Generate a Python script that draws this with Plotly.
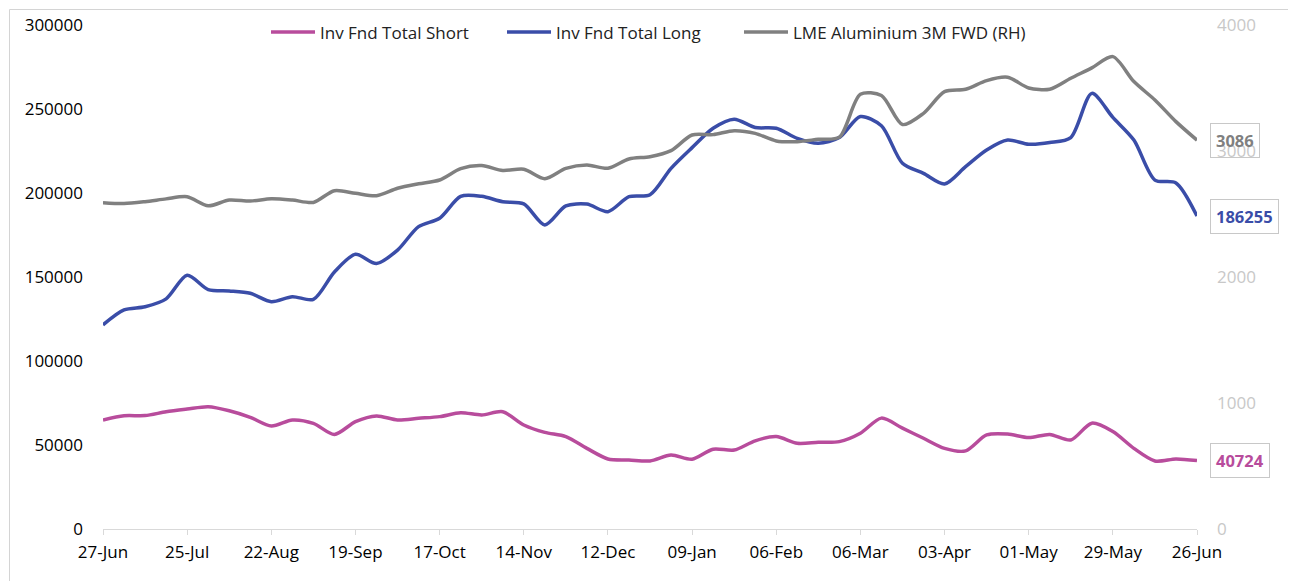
import plotly.graph_objects as go

tick_labels = ["27-Jun", "25-Jul", "22-Aug", "19-Sep", "17-Oct", "14-Nov", "12-Dec",
               "09-Jan", "06-Feb", "06-Mar", "03-Apr", "01-May", "29-May", "26-Jun"]

weeks = list(range(53))

inv_fnd_short = [64900, 67400, 67500, 69800, 71400, 72800, 70400, 66500, 61300, 64900,
                 62900, 56300, 63900, 67300, 64900, 65900, 66900, 69200, 67900, 69800,
                 61900, 57500, 55000, 48000, 41700, 41100, 40500, 44000, 41500, 47500,
                 47000, 52500, 55000, 51000, 51600, 52000, 57000, 66000, 60000, 54000,
                 48000, 46500, 56000, 56500, 54400, 56300, 53000, 63000, 58000, 48000,
                 40500, 41700, 40724]

inv_fnd_long = [121500, 130400, 132300, 137000, 151000, 142500, 141700, 140300, 135300, 138300,
                136700, 153000, 163500, 158000, 166000, 180000, 185000, 198000, 198000, 194800,
                193500, 181000, 192300, 193400, 188900, 197800, 199000, 214700, 227000, 238500,
                243900, 239000, 238500, 232500, 229600, 233000, 245500, 240000, 217700, 211700,
                205400, 215700, 225600, 231500, 229000, 230000, 233000, 259300, 245000, 231500,
                207700, 206000, 186255]

lme_alu_3m = [2590, 2583, 2598, 2620, 2637, 2565, 2611, 2603, 2621, 2611,
              2592, 2685, 2664, 2645, 2704, 2740, 2770, 2860, 2884, 2845,
              2855, 2780, 2862, 2889, 2863, 2937, 2955, 3003, 3127, 3130,
              3161, 3140, 3080, 3074, 3093, 3110, 3450, 3440, 3210, 3299,
              3471, 3490, 3559, 3585, 3500, 3490, 3577, 3660, 3749, 3551,
              3405, 3233, 3086]

C_SHORT = "#B84C9C"
C_LONG = "#3A4DA8"
C_LME = "#808080"
FONT = "Open Sans"

fig = go.Figure()
fig.add_trace(go.Scatter(x=weeks, y=inv_fnd_short, name="Inv Fnd Total Short", mode="lines",
                         legend="legend",
                         line=dict(color=C_SHORT, width=3.5, shape="spline", smoothing=0.8)))
fig.add_trace(go.Scatter(x=weeks, y=inv_fnd_long, name="Inv Fnd Total Long", mode="lines",
                         legend="legend2",
                         line=dict(color=C_LONG, width=3.5, shape="spline", smoothing=0.8)))
fig.add_trace(go.Scatter(x=weeks, y=lme_alu_3m, name="LME Aluminium 3M FWD (RH)", mode="lines",
                         yaxis="y2", legend="legend3",
                         line=dict(color=C_LME, width=3.5, shape="spline", smoothing=0.8)))

# end-of-series data labels
last = len(weeks) - 1
for val, color, yref in [(lme_alu_3m[last], C_LME, "y2"),
                         (inv_fnd_long[last], C_LONG, "y"),
                         (inv_fnd_short[last], C_SHORT, "y")]:
    fig.add_annotation(x=weeks[last], y=val, xref="x", yref=yref, text=f"<b>{val}</b>",
                       showarrow=False, xanchor="left", yanchor="middle", xshift=13,
                       font=dict(family=FONT, size=16.5, color=color),
                       bordercolor="#c8c8c8", borderwidth=1, borderpad=5,
                       bgcolor="rgba(255,255,255,0)")

# outer chart border (kept inside the drawable canvas)
fig.add_shape(type="rect", xref="paper", yref="paper",
              x0=(9.5 - 103) / 1094, x1=(1289 - 103) / 1094,
              y0=(529 - 640) / 504, y1=(529 - 9.5) / 504,
              line=dict(color="#d4d4d4", width=1), fillcolor="rgba(0,0,0,0)", layer="above")

def leg(px):
    return dict(orientation="h", x=(px - 6 - 103) / 1094, xanchor="left",
                y=1.021, yanchor="top", itemwidth=44,
                font=dict(family=FONT, size=17, color="#222222"),
                bgcolor="rgba(0,0,0,0)")

fig.update_layout(
    width=1296, height=581,
    margin=dict(l=95, r=107, t=17, b=60, autoexpand=False),
    paper_bgcolor="white", plot_bgcolor="white",
    font=dict(family=FONT, size=17, color="#000000"),
    showlegend=True,
    legend=leg(272), legend2=leg(508), legend3=leg(745),
    xaxis=dict(range=[0, 52], tickmode="array", tickvals=list(range(0, 53, 4)),
               ticktext=tick_labels, showgrid=False, zeroline=False,
               showline=True, linecolor="#d9d9d9", linewidth=1,
               ticks="outside", ticklen=5, tickcolor="#d9d9d9",
               tickfont=dict(family=FONT, size=17, color="#000000"),
               ticklabelstandoff=3),
    yaxis=dict(range=[0, 300000], tickmode="array", tickvals=list(range(0, 300001, 50000)),
               showgrid=False, zeroline=False, showline=False, ticks="",
               tickformat="d",
               tickfont=dict(family=FONT, size=17, color="#000000"),
               ticklabelstandoff=19),
    yaxis2=dict(range=[0, 4000], overlaying="y", side="right",
                tickmode="array", tickvals=list(range(0, 4001, 1000)),
                showgrid=False, zeroline=False, showline=False, ticks="",
                tickformat="d",
                tickfont=dict(family=FONT, size=17, color="#c8c8c8"),
                ticklabelstandoff=19),
)

fig.write_html("out.html")
